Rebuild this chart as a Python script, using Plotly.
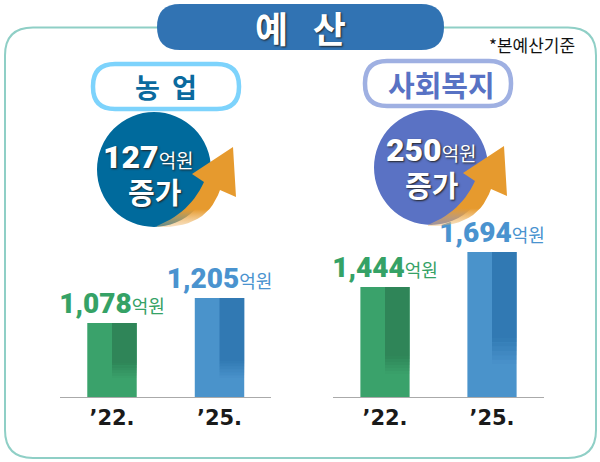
import plotly.graph_objects as go

W, H = 600, 462
KR = "Noto Sans CJK KR"
NUM = "Roboto, Noto Sans CJK KR"

years = ["’22.", "’25."]
farm_budget = [1078, 1205]
welfare_budget = [1444, 1694]
farm_rise = 127
welfare_rise = 250

GREEN, GREEN_DARK = "#3aa26b", "#2f8558"
BLUE, BLUE_DARK = "#4a93cb", "#3179b3"
LABEL_GREEN, LABEL_BLUE = "#35a266", "#4a93cf"


def px_x(x):
    return x / W


def px_y(y):
    return 1 - y / H


def rgba(c, a):
    return "rgba(%d,%d,%d,%s)" % (int(c[1:3], 16), int(c[3:5], 16), int(c[5:7], 16), a)


def label(v):
    return ('<span style="font-weight:900">%s</span>'
            '<span style="font-size:18px;font-family:Noto Sans CJK KR">억원</span>' % format(v, ","))


def add_panel(fig, values, n, scale, base, fades):
    # n = axis number, scale = pixels per budget unit, base = value sitting on the axis
    xa, ya = ("x", "y") if n == 1 else ("x%d" % n, "y%d" % n)
    fills = [GREEN, BLUE]
    darks = [GREEN_DARK, BLUE_DARK]
    text = [
        '<span style="color:%s">%s</span>' % (LABEL_GREEN, label(values[0])),
        '<span style="color:%s">%s</span>' % (LABEL_BLUE, label(values[1])),
    ]
    fig.add_trace(go.Bar(x=[0, 1], y=values, width=0.46, marker_color=fills, marker_line_width=0,
                         text=text, textposition="outside", cliponaxis=False, constraintext="none",
                         textfont=dict(family=NUM, size=28), xaxis=xa, yaxis=ya))
    # right half of each bar is darker and melts into the light colour near the foot
    for i, v in enumerate(values):
        solid_px, end_px = fades[i]
        solid = base + solid_px / scale
        end = base + end_px / scale
        fig.add_trace(go.Bar(x=[i], y=[v - solid], base=[solid], width=0.23, offset=0,
                             marker_color=darks[i], marker_line_width=0, xaxis=xa, yaxis=ya))
        steps = 6
        for s in range(steps):
            lo = solid + (end - solid) * (s + 1) / steps
            hi = solid + (end - solid) * s / steps
            fig.add_trace(go.Bar(x=[i], y=[hi - lo], base=[lo], width=0.23, offset=0,
                                 marker_color=rgba(darks[i], round(1 - (s + 0.5) / steps, 2)),
                                 marker_line_width=0, xaxis=xa, yaxis=ya))


def bezier(p0, c, p1, n=14):
    pts = []
    for i in range(n + 1):
        t = i / n
        pts.append(((1 - t) ** 2 * p0[0] + 2 * t * (1 - t) * c[0] + t ** 2 * p1[0],
                    (1 - t) ** 2 * p0[1] + 2 * t * (1 - t) * c[1] + t ** 2 * p1[1]))
    return pts


def add_arrow(fig, dx, dy):
    pts = bezier((157, 226), (190, 213), (204, 182))
    pts += [(192, 174), (233, 147), (236, 197), (220, 190)]
    pts += bezier((220, 190), (207, 229), (157, 227))
    pts.append(pts[0])
    fig.add_trace(go.Scatter(
        x=[p[0] + dx for p in pts], y=[p[1] + dy for p in pts], mode="lines", line_width=0,
        fill="toself", xaxis="x3", yaxis="y3",
        fillgradient=dict(type="vertical", start=147 + dy, stop=229 + dy,
                          colorscale=[[0, "#e69a2e"], [0.76, "#e69a2e"], [1, "rgba(240,190,120,0.35)"]]),
    ))


fig = go.Figure()
add_panel(fig, farm_budget, 1, 0.197, 702, [(34, 19), (36, 19)])
add_panel(fig, welfare_budget, 2, 0.14, 658, [(41, 23), (59, 33)])
add_arrow(fig, 0, 0)
add_arrow(fig, 271, -1)


def rrect(x0, y0, x1, y1, r):
    return ("M %f %f L %f %f Q %f %f %f %f L %f %f Q %f %f %f %f L %f %f Q %f %f %f %f L %f %f Q %f %f %f %f Z"
            % (px_x(x0 + r), px_y(y0), px_x(x1 - r), px_y(y0), px_x(x1), px_y(y0), px_x(x1), px_y(y0 + r),
               px_x(x1), px_y(y1 - r), px_x(x1), px_y(y1), px_x(x1 - r), px_y(y1),
               px_x(x0 + r), px_y(y1), px_x(x0), px_y(y1), px_x(x0), px_y(y1 - r),
               px_x(x0), px_y(y0 + r), px_x(x0), px_y(y0), px_x(x0 + r), px_y(y0)))


def box(path, fill, line=None, lw=0):
    return dict(type="path", path=path, xref="paper", yref="paper", layer="below",
                fillcolor=fill, line=dict(color=line or fill, width=lw))


def circle(x0, y0, x1, y1, fill):
    return dict(type="circle", xref="paper", yref="paper", layer="below", fillcolor=fill, line_width=0,
                x0=px_x(x0), x1=px_x(x1), y0=px_y(y1), y1=px_y(y0))


shapes = [
    box(rrect(5, 27.5, 596, 458, 28), "white", "#8fcfc6", 2),
    box(rrect(157, 4, 444, 50, 23), "#3173b3"),
    box(rrect(93, 64, 239, 109, 22), "white", "#7dd3fc", 4.5),
    box(rrect(365, 61, 511, 106, 22), "white", "#9fb0e2", 4.5),
    circle(97, 112, 211, 227, "#006a9c"),
    circle(374, 110, 488, 225, "#5a72c4"),
]


def note(text, x, y, size, color, bold=False, shadow=None, family=KR):
    return dict(text="<b>%s</b>" % text if bold else text, x=px_x(x), y=px_y(y), xref="paper", yref="paper",
                showarrow=False, xanchor="center", yanchor="middle",
                font=dict(family=family, size=size, color=color, shadow=shadow or "none"))


glow = "1px 1px 2px #222"
rise_fmt = ('<span style="font-weight:900">%d</span>'
            '<span style="font-size:19px;font-family:Noto Sans CJK KR">억원</span>')
annotations = [
    note("예   산", 300, 27, 36, "white", True, glow),
    note("*본예산기준", 532, 45, 17, "#111"),
    note("농  업", 166, 86, 27, "#0a6a9e", True),
    note("사회복지", 441, 84, 29, "#5872c4", True),
    note(rise_fmt % farm_rise, 148, 157, 32, "white", False, glow, NUM),
    note("<b>증가</b>", 154, 191, 29, "white", False, glow),
    note(rise_fmt % welfare_rise, 431, 150, 32, "white", False, glow, NUM),
    note("<b>증가</b>", 431, 184, 29, "white", False, glow),
]


def bar_xaxis(x0, x1, c0, step):
    return dict(domain=[px_x(x0), px_x(x1)], range=[(x0 - c0) / step, (x1 - c0) / step],
                tickmode="array", tickvals=[0, 1], ticktext=["<b>%s</b>" % y for y in years],
                tickfont=dict(family="DejaVu Sans", size=21, color="#1a1a1a"), ticks="",
                showline=True, linecolor="#aaaaaa", linewidth=1, showgrid=False, zeroline=False,
                ticklabelstandoff=2, fixedrange=True)


def bar_yaxis(anchor, top_px, base, scale):
    return dict(domain=[px_y(397), px_y(top_px)], range=[base, base + (397 - top_px) / scale],
                visible=False, anchor=anchor, fixedrange=True)


fig.update_layout(
    width=W, height=H, margin=dict(l=0, r=0, t=0, b=0), autosize=False,
    paper_bgcolor="white", plot_bgcolor="rgba(0,0,0,0)", showlegend=False, barmode="overlay",
    hovermode=False, shapes=shapes, annotations=annotations,
    xaxis=bar_xaxis(60, 271, 112, 107.5),
    yaxis=bar_yaxis("x", 250, 702, 0.197),
    xaxis2=bar_xaxis(333, 544, 385, 107),
    yaxis2=bar_yaxis("x2", 230, 658, 0.14),
    xaxis3=dict(domain=[0, 1], range=[0, W], visible=False, anchor="y3", fixedrange=True),
    yaxis3=dict(domain=[0, 1], range=[H, 0], visible=False, anchor="x3", fixedrange=True),
)

fig.write_html("out.html", config=dict(displayModeBar=False),
               post_script="document.body.style.margin='0';document.body.style.overflow='hidden';")
